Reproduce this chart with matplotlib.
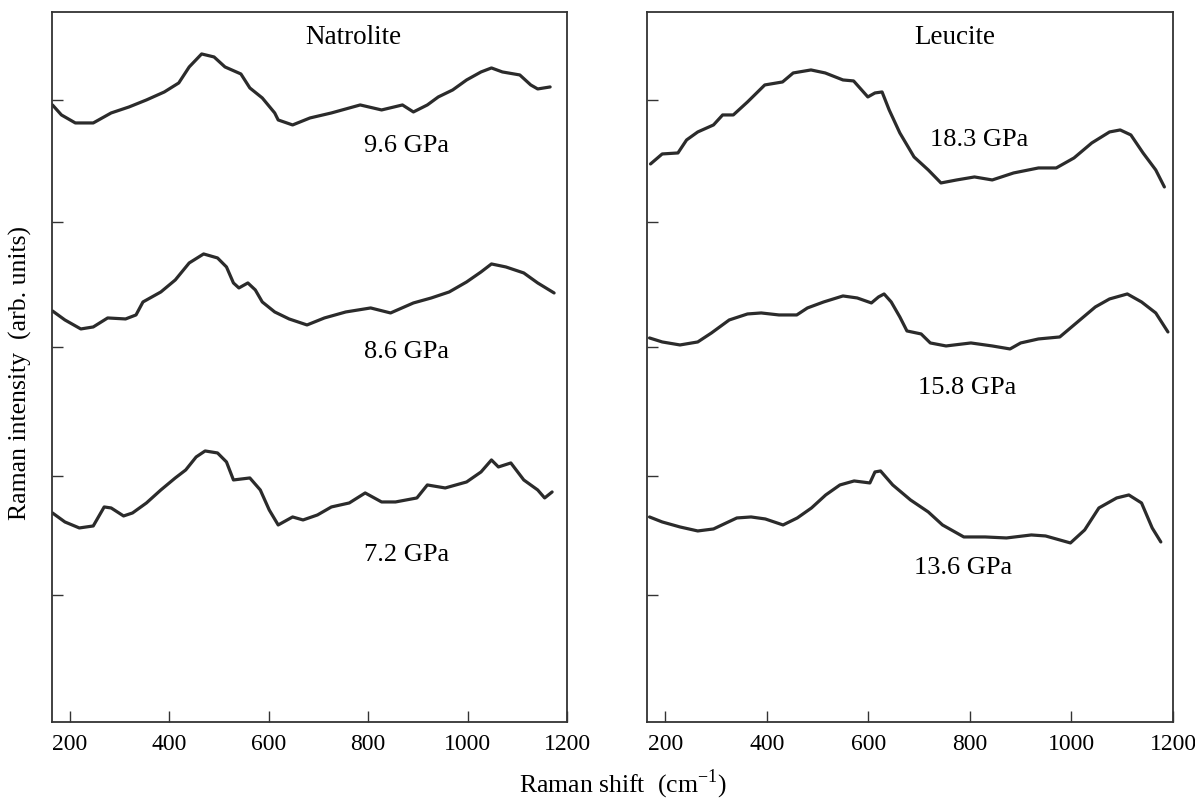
import matplotlib
matplotlib.use("Agg")
import matplotlib.pyplot as plt

plt.rcParams["font.family"] = ["Liberation Serif", "DejaVu Serif"]
plt.rcParams["mathtext.fontset"] = "custom"
plt.rcParams["mathtext.rm"] = "Liberation Serif"

# Natrolite spectra (Raman shift in cm-1, intensity in arb. units incl. offset)
nat_96_x = [165, 183, 211, 247, 283, 319, 354, 390, 419, 440, 465, 490, 512, 544, 562, 587,
            612, 619, 648, 683, 726, 784, 827, 869, 891, 919, 941, 970, 998, 1027, 1048,
            1070, 1105, 1127, 1141, 1166]
nat_96_y = [617, 607, 599, 599, 609, 615, 622, 630, 639, 655, 668, 665, 655, 648, 634, 624,
            609, 602, 597, 604, 609, 617, 612, 617, 610, 617, 625, 632, 642, 650, 654,
            650, 647, 637, 633, 635]

nat_86_x = [165, 190, 222, 247, 276, 312, 333, 347, 383, 412, 440, 469, 497, 515, 529, 540,
            558, 573, 587, 612, 641, 677, 712, 755, 805, 845, 891, 927, 963, 998, 1027,
            1048, 1077, 1113, 1141, 1174]
nat_86_y = [411, 402, 393, 395, 404, 403, 407, 420, 430, 442, 459, 468, 464, 455, 439, 434,
            439, 432, 420, 410, 403, 397, 404, 410, 414, 409, 419, 424, 430, 440, 450,
            458, 455, 449, 439, 429]

nat_72_x = [165, 190, 219, 247, 269, 283, 308, 326, 354, 383, 412, 433, 454, 472, 497, 515,
            529, 562, 583, 601, 619, 648, 669, 698, 726, 762, 794, 827, 855, 898, 919,
            955, 998, 1027, 1048, 1062, 1087, 1113, 1141, 1155, 1170]
nat_72_y = [209, 200, 194, 196, 215, 214, 206, 209, 219, 232, 244, 252, 265, 271, 269, 260,
            242, 244, 232, 212, 197, 205, 202, 207, 215, 219, 229, 220, 220, 224, 237,
            234, 240, 250, 262, 255, 259, 242, 232, 224, 230]

# Leucite spectra
leu_183_x = [171, 194, 225, 242, 264, 295, 313, 334, 362, 396, 431, 452, 487, 515, 550, 571,
             599, 613, 627, 641, 662, 690, 718, 743, 774, 809, 844, 886, 935, 970, 1005,
             1040, 1075, 1096, 1117, 1141, 1166, 1183]
leu_183_y = [558, 568, 569, 582, 590, 597, 607, 607, 620, 637, 640, 649, 652, 649, 642, 641,
             625, 629, 630, 612, 589, 565, 552, 539, 542, 545, 542, 549, 554, 554, 564,
             579, 590, 592, 587, 569, 552, 535]

leu_158_x = [169, 194, 229, 264, 291, 326, 362, 389, 424, 459, 480, 512, 550, 578, 606, 620,
             631, 645, 662, 676, 704, 722, 753, 802, 844, 879, 900, 935, 977, 1012, 1047,
             1075, 1110, 1138, 1166, 1190]
leu_158_y = [384, 380, 377, 380, 389, 402, 408, 409, 407, 407, 414, 420, 426, 424, 419, 425,
             428, 420, 405, 391, 388, 379, 376, 379, 376, 373, 379, 383, 385, 400, 415,
             423, 428, 420, 409, 390]

leu_136_x = [169, 194, 229, 264, 295, 320, 341, 369, 397, 432, 460, 488, 516, 544, 572, 603,
             613, 624, 648, 683, 718, 746, 788, 830, 872, 921, 949, 998, 1026, 1054, 1089,
             1113, 1138, 1159, 1176]
leu_136_y = [205, 200, 195, 191, 193, 199, 204, 205, 203, 197, 204, 214, 227, 237, 241, 239,
             250, 251, 237, 222, 210, 197, 185, 185, 184, 187, 186, 179, 192, 214, 224,
             227, 219, 194, 180]

ytick_pos = [622, 500, 375, 246, 127]
xtick_pos = [200, 400, 600, 800, 1000, 1200]

panels = [
    ("Natrolite", [(nat_96_x, nat_96_y, "9.6 GPa", 877, 576),
                   (nat_86_x, nat_86_y, "8.6 GPa", 877, 370),
                   (nat_72_x, nat_72_y, "7.2 GPa", 877, 167)]),
    ("Leucite", [(leu_183_x, leu_183_y, "18.3 GPa", 819, 582),
                 (leu_158_x, leu_158_y, "15.8 GPa", 794, 334),
                 (leu_136_x, leu_136_y, "13.6 GPa", 786, 154)]),
]

fig = plt.figure(figsize=(11.95, 8.02), dpi=100)
ax_left = fig.add_axes([0.0435, 0.0998, 0.431, 0.8853])
ax_right = fig.add_axes([0.5414, 0.0998, 0.4402, 0.8853])

for ax, (name, curves) in zip([ax_left, ax_right], panels):
    for x, y, label, lx, ly in curves:
        ax.plot(x, y, color="#2b2b2b", lw=2.3, solid_joinstyle="round",
                solid_capstyle="round")
        ax.text(lx, ly, label, fontsize=19, ha="center", va="center")
    ax.text(771, 684, name, fontsize=19.5, ha="center", va="center")
    ax.set_xlim(164, 1195)
    ax.set_ylim(0, 710)
    ax.set_xticks(xtick_pos)
    ax.set_yticks(ytick_pos)
    ax.set_yticklabels([])
    ax.tick_params(axis="both", direction="in", length=8, width=1.0, color="#333333")
    ax.tick_params(axis="x", labelsize=17, pad=9)
    for s in ax.spines.values():
        s.set_linewidth(1.3)
        s.set_color("#333333")

fig.text(0.521, 0.022, r"Raman shift  (cm$^{-1}$)", fontsize=18.5, ha="center", va="center")
fig.text(0.017, 0.535, "Raman intensity  (arb. units)", fontsize=18.5, rotation=90,
         ha="center", va="center")

fig.savefig("out.png", dpi=100)
